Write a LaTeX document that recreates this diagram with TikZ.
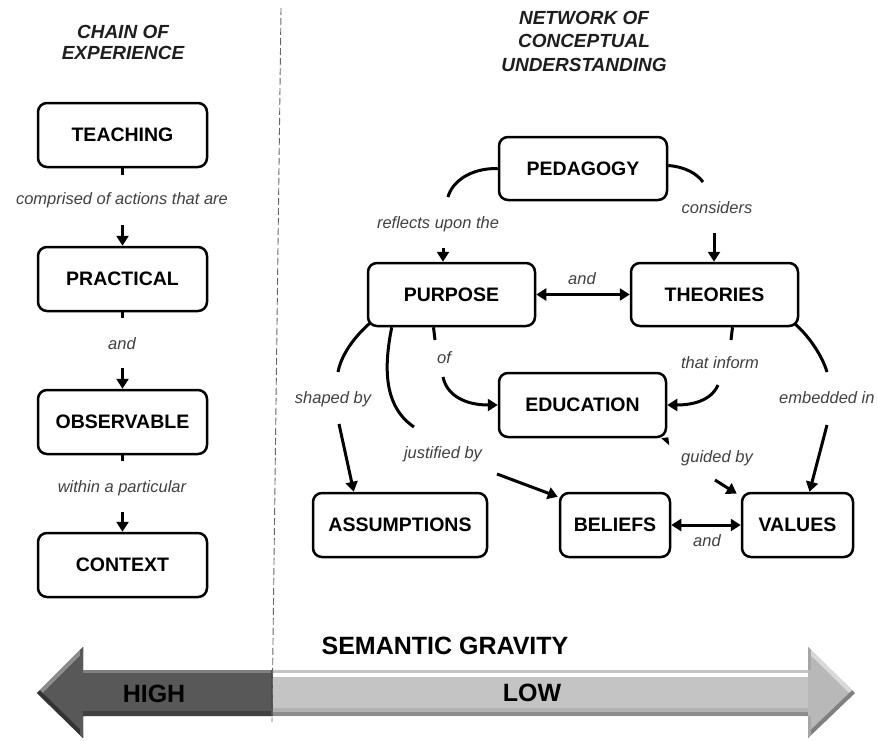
\documentclass[tikz,border=0pt]{standalone}
\usepackage{fontspec}
\setmainfont{Liberation Sans}
\usetikzlibrary{arrows.meta,calc}
\definecolor{labelgray}{HTML}{404040}
\definecolor{headgray}{HTML}{1E1E1E}
\definecolor{darkbody}{HTML}{585858}
\definecolor{lightbody}{HTML}{C4C4C4}
\begin{document}
\begin{tikzpicture}[x=1pt,y=-1pt,
  concept/.style={draw=black, line width=2.5pt, rounded corners=9pt,
    minimum height=63pt, inner sep=0pt, text=black,
    font=\fontsize{19.5}{22}\selectfont\bfseries},
  linkword/.style={inner sep=0pt, text=labelgray,
    font=\fontsize{16.5}{19}\selectfont\itshape},
  heading/.style={align=center, text=headgray, inner sep=0pt},
  link/.style={draw=black, line width=3pt},
  tip/.style={link, -{Triangle[length=10pt,width=12pt]}},
  twotips/.style={link, {Triangle[length=10pt,width=12pt]}-{Triangle[length=10pt,width=12pt]}},
  divider/.style={draw=black!60, line width=0.9pt, dash pattern=on 7pt off 3pt},
  gravitytext/.style={inner sep=0pt, text=black, font=\fontsize{25}{28}\selectfont\bfseries},
]
\useasboundingbox (0,0) rectangle (878,740);

% ---------- headings ----------
\node[heading, font=\fontsize{19}{21}\selectfont\bfseries\itshape] (chain) at (123,42) {CHAIN OF\\EXPERIENCE};
\node[heading, font=\fontsize{19}{23.5}\selectfont\bfseries\itshape] (network) at (584,41) {NETWORK OF\\CONCEPTUAL\\UNDERSTANDING};

% ---------- chain of experience ----------
\node[concept, minimum width=169pt, minimum height=64pt] (teach) at (122.5,135) {TEACHING};
\node[concept, minimum width=169pt, minimum height=64pt] (prac)  at (122.5,279) {PRACTICAL};
\node[concept, minimum width=169pt, minimum height=64pt] (obs)   at (122.5,422) {OBSERVABLE};
\node[concept, minimum width=169pt, minimum height=64pt] (ctx)   at (122.5,565) {CONTEXT};

\coordinate (ta) at (122.5,175);
\coordinate (tb) at (122.5,225);
\coordinate (pa) at (122.5,318);
\coordinate (pb) at (122.5,368);
\coordinate (oa) at (122.5,461);
\coordinate (ob) at (122.5,512);
\draw[link] (teach.south) -- (ta);
\draw[tip] (tb) -- (prac.north);
\draw[link] (prac.south) -- (pa);
\draw[tip] (pb) -- (obs.north);
\draw[link] (obs.south) -- (oa);
\draw[tip] (ob) -- (ctx.north);

\node[linkword] (lcomp) at (122,200) {comprised of actions that are};
\node[linkword] (land1) at (122,344) {and};
\node[linkword] (lwithin) at (122,488) {within a particular};

% ---------- network of conceptual understanding ----------
\node[concept, minimum width=168pt] (ped) at (583,168.5) {PEDAGOGY};
\node[concept, minimum width=167pt] (pur) at (451.5,294.5) {PURPOSE};
\node[concept, minimum width=167pt] (the) at (714.5,294.5) {THEORIES};
\node[concept, minimum width=167pt, minimum height=64pt] (edu) at (582.5,405) {EDUCATION};
\node[concept, minimum width=174pt, minimum height=64pt] (ass) at (400,525) {ASSUMPTIONS};
\node[concept, minimum width=110pt, minimum height=64pt] (bel) at (615,525) {BELIEFS};
\node[concept, minimum width=111pt, minimum height=64pt] (val) at (797.5,525) {VALUES};

% pedagogy -> purpose
\coordinate (refA) at (448,197);
\coordinate (refB) at (443,248);
\draw[link] (ped.west) .. controls (470,168) and (452,182) .. (refA);
\draw[tip] (refB) -- (refB |- pur.north);
\node[linkword] (lrefl) at (438,224) {reflects upon the};

% pedagogy -> theories
\coordinate (conA) at (703,182);
\coordinate (conB) at (714,233);
\draw[link] ([yshift=3pt]ped.east) .. controls (686,167) and (697,174) .. (conA);
\draw[tip] (conB) -- (conB |- the.north);
\node[linkword] (lcons) at (717,208) {considers};

% purpose <-> theories
\draw[twotips] (pur.east) -- (the.west);
\node[linkword] (land2) at (582,279) {and};

% purpose -> education
\coordinate (ofA) at (435,340);
\coordinate (ofB) at (443,377);
\draw[link] ($(pur.south)+(-18,0)$) -- (ofA);
\draw[tip] (ofB) .. controls (447,396) and (466,405) .. (edu.west);
\node[linkword] (lof) at (444,358) {of};

% theories -> education
\coordinate (infA) at (731,340);
\coordinate (infB) at (718,385);
\draw[link] ($(the.south)+(18,0)$) -- (infA);
\draw[tip] (infB) .. controls (711,401) and (692,405) .. (edu.east);
\node[linkword] (linf) at (720,363) {that inform};

% purpose -> assumptions
\coordinate (shA) at (338,372);
\coordinate (shB) at (339,424);
\draw[link] ([shift={(3,-4)}]pur.south west) .. controls (353,338) and (341,356) .. (shA);
\draw[tip] (shB) -- ($(ass.north west)+(42,0)$);
\node[linkword] (lshape) at (333,399) {shaped by};

% purpose -> beliefs
\coordinate (juA) at (414,427);
\coordinate (juB) at (497,474);
\draw[link] ($(pur.south west)+(25,0)$) .. controls (384,366) and (383,406) .. (juA);
\draw[tip] (juB) -- ($(bel.north west)+(-1,5)$);
\node[linkword] (ljust) at (443,454) {justified by};

% theories -> values
\coordinate (emA) at (827,372);
\coordinate (emB) at (827,425);
\draw[link] ([shift={(-5,-4)}]the.south east) .. controls (808,335) and (822,355) .. (emA);
\draw[tip] (emB) -- ($(val.north)+(12,0)$);
\node[linkword, anchor=west] (lemb) at (779,398) {embedded in};

% education -> values
\coordinate (guA) at (668,442);
\coordinate (guB) at (715,480);
\fill[black] ([shift={(-6,0)}]edu.south east) -- ([shift={(2,7)}]edu.south east) -- ([shift={(1,-1)}]edu.south east) -- cycle;
\draw[tip] (guB) -- ($(val.north west)+(-4,2)$);
\node[linkword] (lguid) at (717,458) {guided by};

% beliefs <-> values
\draw[twotips] (bel.east) -- (val.west);
\node[linkword] (land3) at (707,541) {and};

% ---------- semantic gravity scale ----------
\fill[lightbody] (37,693) -- (83,647) -- (83,670) -- (808,670) -- (808,647) -- (855,693)
  -- (808,738) -- (808,716) -- (83,716) -- (83,738) -- cycle;
\begin{scope}
  \clip (37,693) -- (83,647) -- (83,670) -- (808,670) -- (808,647) -- (855,693)
    -- (808,738) -- (808,716) -- (83,716) -- (83,738) -- cycle;
  % dark half
  \fill[darkbody] (0,600) rectangle (272,740);
  \fill[black!50] (83,670) rectangle (272,673);
  \fill[black!75] (83,711) rectangle (272,716);
  \draw[black!45, line width=8pt] (83,647) -- (37,693);
  \draw[black!80, line width=8pt] (37,693) -- (83,738);
  \draw[black!65, line width=6pt] (83,647) -- (83,670);
  \draw[black!65, line width=6pt] (83,716) -- (83,738);
  % light half
  \fill[white] (272,673) rectangle (808,677);
  \fill[black!30] (272,708) rectangle (808,712);
  \fill[black!45] (272,712) rectangle (808,716);
  \fill[black!28] (808,647) -- (855,693) -- (808,738) -- cycle;
  \draw[black!15, line width=8pt] (808,647) -- (855,693);
  \draw[black!50, line width=8pt] (855,693) -- (808,738);
  \draw[black!35, line width=6pt] (808,647) -- (808,670);
  \draw[black!35, line width=6pt] (808,716) -- (808,738);
  \draw[black!70, line width=1.2pt] (272,665) -- (272,720);
\end{scope}

\node[gravitytext] (sg) at (445,646) {SEMANTIC GRAVITY};
\node[gravitytext] (high) at (154,694) {HIGH};
\node[gravitytext] (low) at (532,693) {LOW};

% ---------- divider ----------
\draw[divider] (281,8) -- (272,722);

\end{tikzpicture}
\end{document}
